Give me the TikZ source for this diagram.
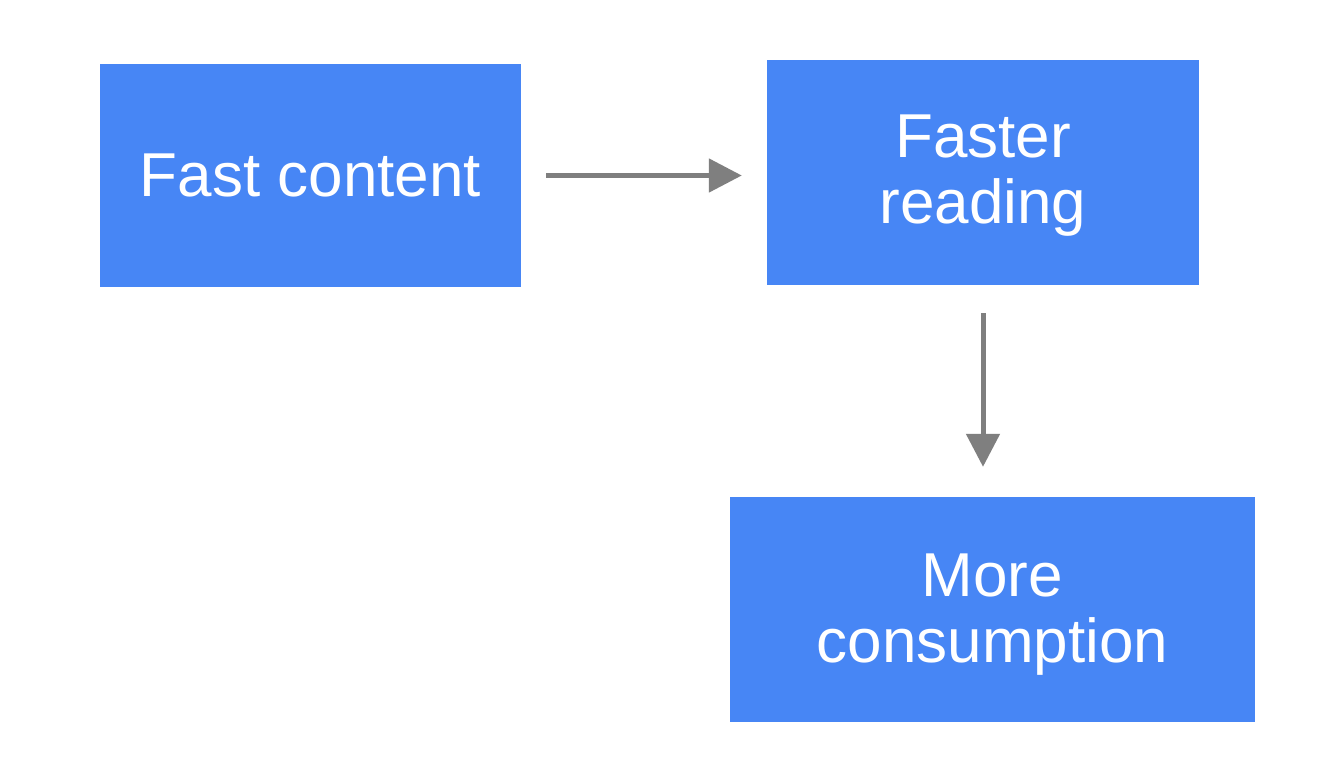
\documentclass[tikz,border=0pt]{standalone}
\usepackage{fontspec}
\usetikzlibrary{arrows.meta}
\newfontfamily\boxfont{Liberation Sans}
\definecolor{boxblue}{HTML}{4786F5}
\definecolor{arrowgrey}{HTML}{7F7F7F}
\tikzset{
  bluebox/.style={rectangle, fill=boxblue, draw=none, inner sep=0pt},
  boxtext/.style={text=white, align=center, inner sep=0pt,
    font=\boxfont\fontsize{62}{66}\selectfont},
  flowarrow/.style={draw=arrowgrey, line width=5pt,
    -{Triangle[length=33pt,width=33pt]}}
}
\begin{document}
\begin{tikzpicture}[x=1pt,y=-1pt]
\useasboundingbox[fill=white] (0,0) rectangle (1318,784);
\node[bluebox, minimum width=421pt, minimum height=223pt] (b1) at (310.5,175.5) {};
\node[bluebox, minimum width=432pt, minimum height=225pt] (b2) at (983,172.5) {};
\node[bluebox, minimum width=525pt, minimum height=225pt] (b3) at (992.5,609.5) {};
\node[boxtext] (t1) at (b1.center) {Fast content};
\node[boxtext] (t2) at ([yshift=-3pt]b2.center) {Faster\\reading};
\node[boxtext] (t3) at ([yshift=-5pt]b3.center) {More\\consumption};
\draw[flowarrow, shorten <=25pt, shorten >=25pt] (b1.east) -- (b1.east -| b2.west);
\draw[flowarrow, shorten <=28pt, shorten >=30pt] (b2.south) -- (b2.south |- b3.north);
\end{tikzpicture}
\end{document}
